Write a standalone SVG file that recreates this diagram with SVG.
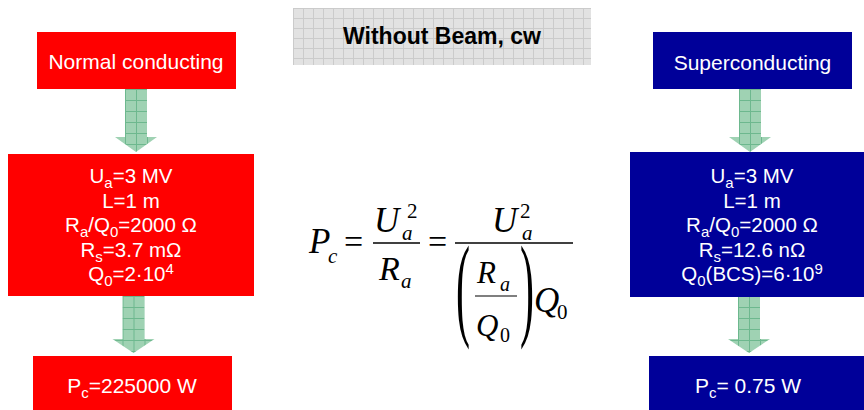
<svg xmlns="http://www.w3.org/2000/svg" width="864" height="410" viewBox="0 0 864 410">
<defs>
<pattern id="grn" patternUnits="userSpaceOnUse" x="0" y="0" width="11" height="11">
<rect width="11" height="11" fill="#9fd2b3"/>
<path d="M0 0.5H11M0.5 0V11" stroke="#6db88e" stroke-width="1" fill="none"/>
</pattern>
<pattern id="gry" patternUnits="userSpaceOnUse" x="293" y="8" width="10" height="10">
<rect width="10" height="10" fill="#e2e2e2"/>
<path d="M0 0.5H10M0.5 0V10" stroke="#cbcbcb" stroke-width="1" fill="none"/>
</pattern>
<path id="arrowA" d="M-11 0H11V48H21L0 63L-21 48H-11Z"/>
<path id="arrowB" d="M-11 0H11V43H21L0 57L-21 43H-11Z"/>
</defs>
<style>
.red{fill:#ff0000}
.blue{fill:#000099}
.lbl{font-family:"Liberation Sans",Arial,sans-serif;fill:#ffffff;text-anchor:middle}
.big{font-size:21px}
.mid{font-size:20.5px}
.arr{fill:url(#grn)}
.m{font-family:"Liberation Serif","Times New Roman",serif;fill:#000000}
.i{font-style:italic}
.n{font-style:normal}
.bar{stroke:#000000;stroke-width:1.5}
</style>
<rect width="864" height="410" fill="#ffffff"/>

<g id="title">
<rect x="293" y="8" width="298" height="57" fill="url(#gry)"/>
<text x="442" y="44" font-family="Liberation Sans,Arial,sans-serif" font-size="23" font-weight="bold" text-anchor="middle" fill="#000">Without Beam, cw</text>
</g>

<g id="connectors">
<g transform="translate(136,89)"><use href="#arrowA" class="arr"/></g>
<g transform="translate(133.5,296)"><use href="#arrowB" class="arr"/></g>
<g transform="translate(750,89)"><use href="#arrowA" class="arr"/></g>
<g transform="translate(749,296)"><use href="#arrowB" class="arr"/></g>
</g>

<g id="nc-top">
<rect class="red" x="37" y="32" width="199" height="57"/>
<text class="lbl big" x="136" y="69">Normal conducting</text>
</g>
<g id="nc-params">
<rect class="red" x="8" y="154" width="246" height="142"/>
<text class="lbl mid" x="131" y="183">U<tspan font-size="15" dy="5">a</tspan><tspan dy="-5">=3 MV</tspan></text>
<text class="lbl mid" x="131" y="207.5">L=1 m</text>
<text class="lbl mid" x="131" y="232">R<tspan font-size="15" dy="5">a</tspan><tspan dy="-5">/Q</tspan><tspan font-size="15" dy="5">0</tspan><tspan dy="-5">=2000 Ω</tspan></text>
<text class="lbl mid" x="131" y="256.5">R<tspan font-size="15" dy="5">s</tspan><tspan dy="-5">=3.7 mΩ</tspan></text>
<text class="lbl mid" x="131" y="281">Q<tspan font-size="15" dy="5">0</tspan><tspan dy="-5">=2·10</tspan><tspan font-size="15" dy="-7">4</tspan></text>
</g>
<g id="nc-result">
<rect class="red" x="33" y="356" width="199" height="54"/>
<text class="lbl big" x="132" y="393">P<tspan font-size="15" dy="5">c</tspan><tspan dy="-5">=225000 W</tspan></text>
</g>

<g id="sc-top">
<rect class="blue" x="653" y="32" width="199" height="57"/>
<text class="lbl big" x="752.5" y="70">Superconducting</text>
</g>
<g id="sc-params">
<rect class="blue" x="630" y="152" width="234" height="145"/>
<text class="lbl mid" x="752" y="183">U<tspan font-size="15" dy="5">a</tspan><tspan dy="-5">=3 MV</tspan></text>
<text class="lbl mid" x="752" y="207.5">L=1 m</text>
<text class="lbl mid" x="752" y="232">R<tspan font-size="15" dy="5">a</tspan><tspan dy="-5">/Q</tspan><tspan font-size="15" dy="5">0</tspan><tspan dy="-5">=2000 Ω</tspan></text>
<text class="lbl mid" x="752" y="256.5">R<tspan font-size="15" dy="5">s</tspan><tspan dy="-5">=12.6 nΩ</tspan></text>
<text class="lbl mid" x="752" y="281">Q<tspan font-size="15" dy="5">0</tspan><tspan dy="-5">(BCS)=6·10</tspan><tspan font-size="15" dy="-7">9</tspan></text>
</g>
<g id="sc-result">
<rect class="blue" x="649" y="356" width="215" height="54"/>
<text class="lbl big" x="748" y="393">P<tspan font-size="15" dy="5">c</tspan><tspan dy="-5">= 0.75 W</tspan></text>
</g>

<g id="formula">
<text class="m i" x="309" y="253" font-size="35">P<tspan x="328" y="263" font-size="21">c</tspan><tspan class="n" x="344" y="253" font-size="34">=</tspan></text>
<line class="bar" x1="373" y1="243" x2="420" y2="243"/>
<text class="m i" x="374" y="232" font-size="35">U<tspan class="n" x="407" y="218" font-size="21">2</tspan><tspan x="402" y="240" font-size="21">a</tspan></text>
<text class="m i" x="379" y="280" font-size="34">R<tspan x="401" y="288" font-size="21">a</tspan></text>
<text class="m" x="428" y="253" font-size="34">=</text>
<line class="bar" x1="455" y1="243" x2="573" y2="243"/>
<text class="m i" x="492" y="232" font-size="35">U<tspan class="n" x="520" y="218" font-size="21">2</tspan><tspan x="522" y="240" font-size="21">a</tspan></text>
<text class="m" transform="translate(456,325) scale(0.7,1.9)" font-size="60">(</text>
<text class="m" transform="translate(520,325) scale(0.7,1.9)" font-size="60">)</text>
<text class="m i" x="477" y="283" font-size="31">R<tspan x="500" y="291" font-size="20">a</tspan></text>
<line x1="475" y1="296" x2="517" y2="296" stroke="#000" stroke-width="1.2"/>
<text class="m i" x="476" y="336" font-size="31">Q<tspan class="n" x="500" y="342" font-size="20">0</tspan></text>
<text class="m i" x="534" y="312" font-size="35">Q<tspan class="n" x="557" y="319" font-size="21">0</tspan></text>
</g>
</svg>
